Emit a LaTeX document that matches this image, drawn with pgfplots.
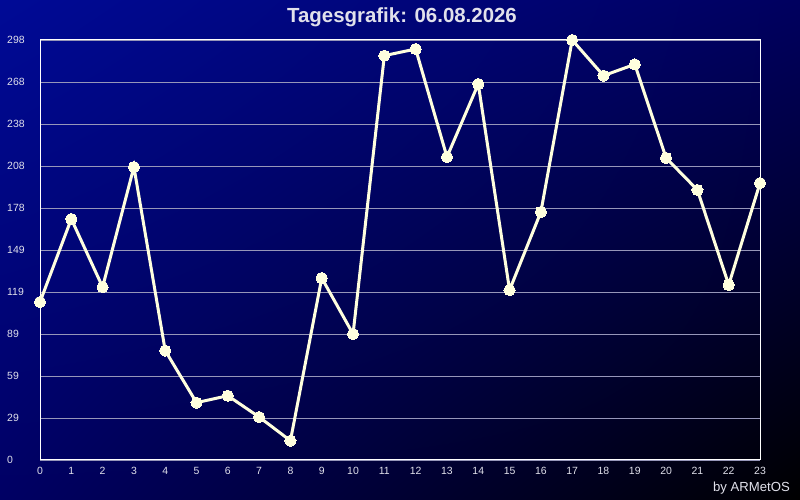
\documentclass[border=0pt]{standalone}
\usepackage{pgfplots}
\pgfplotsset{compat=1.18}
\usetikzlibrary{shadings}
\usepackage{fontspec}
\setmainfont{Liberation Sans}
\definecolor{bgul}{RGB}{0,10,150}
\definecolor{bgur}{RGB}{0,0,95}
\definecolor{bgll}{RGB}{0,0,100}
\definecolor{bglr}{RGB}{0,0,0}
\definecolor{linec}{RGB}{255,255,222}
\definecolor{gridc}{RGB}{150,150,185}
\definecolor{txtc}{RGB}{225,225,235}
\begin{document}
\begin{tikzpicture}[x=1bp,y=1bp]
\useasboundingbox (0,0) rectangle (800,500);
\shade[upper left=bgul, upper right=bgur, lower left=bgll, lower right=bglr] (0,0) rectangle (800,500);
\node[text=txtc, font=\fontsize{20.5}{22}\selectfont\bfseries] at (402,483) {Tagesgrafik: 06.08.2026};
\node[text=txtc, font=\fontsize{13.2}{15}\selectfont, anchor=east, inner sep=0pt] at (790,12) {by ARMetOS};
\begin{axis}[
  at={(40bp,40bp)}, anchor=south west,
  scale only axis, width=720bp, height=420bp,
  xmin=0, xmax=23, ymin=0, ymax=298,
  clip=false,
  axis line style={white, line width=1bp},
  xtick={0,...,23},
  ytick={0,29.8,59.6,89.4,119.2,149,178.8,208.6,238.4,268.2,298},
  yticklabels={0,29,59,89,119,149,178,208,238,268,298},
  major tick length=0pt,
  ymajorgrids=true,
  grid style={gridc, line width=0.8bp},
  tick label style={text=txtc, font=\fontsize{10.5}{12}\selectfont},
  yticklabel style={anchor=west, inner sep=0pt, xshift=-33bp},
  xticklabel style={inner sep=0pt, yshift=-7bp},
  /pgf/number format/assume math mode=true,
]
\addplot[linec, line width=3bp, mark=*, mark size=5.6bp, mark options={fill=linec, draw=linec, line width=0bp}] coordinates {
(0,112.1) (1,171.0) (2,122.7) (3,207.9) (4,77.6) (5,40.7) (6,45.6) (7,30.5)
(8,13.7) (9,129.1) (10,89.4) (11,286.9) (12,291.6) (13,215.0) (14,266.8) (15,120.6)
(16,176.0) (17,298.0) (18,272.7) (19,280.7) (20,214.3) (21,191.6) (22,124.2) (23,196.5)
};
\end{axis}
\end{tikzpicture}
\end{document}
